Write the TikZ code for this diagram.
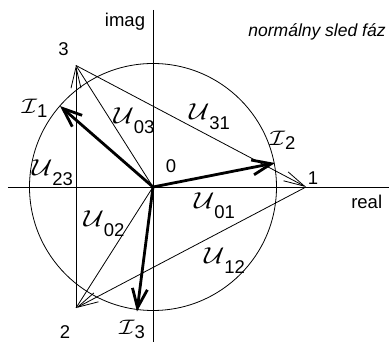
\documentclass[tikz,border=0pt]{standalone}
\usepackage{amsmath}
\usepackage{fontspec}
\setmainfont{Liberation Sans}
\usetikzlibrary{arrows.meta}

\newcommand{\Uph}[1]{\scalebox{2.8}[2.3]{\normalsize$\mathcal{U}$}\raisebox{-10pt}{#1}}
\newcommand{\Iph}[1]{\scalebox{2.5}[2.1]{\normalsize$\mathcal{I}$}\raisebox{-4pt}{#1}}

\begin{document}
\begin{tikzpicture}[x=1pt, y=1pt,
  lbl/.style={font=\fontsize{18.5}{21}\selectfont, inner sep=0pt},
  thinline/.style={line width=0.8pt},
  volt/.style={line width=0.8pt, -{Straight Barb[length=21pt, width=10pt]}},
  curr/.style={line width=2.8pt, -{Straight Barb[length=19pt, width=15pt]}}]
  \useasboundingbox (-153,-155) rectangle (236,187);
  % points of the system
  \coordinate (O) at (0,0);
  \coordinate (P1) at (153,0);
  \coordinate (P2) at (-77,-121);
  \coordinate (P3) at (-77,121.5);
  \coordinate (I1) at (-93,81);
  \coordinate (I2) at (122,24);
  \coordinate (I3) at (-16,-124.5);
  \coordinate (xl) at (-145,0);
  \coordinate (xr) at (236,0);
  \coordinate (yt) at (0,177);
  \coordinate (yb) at (0,-155);
  % axes and circle
  \draw[thinline] (xl) -- (xr);
  \draw[thinline] (yt) -- (yb);
  \draw[thinline] (O) circle[radius=123.5];
  % phase and line voltages
  \foreach \p in {P1,P2,P3}
    \draw[thinline] (O) -- (\p);
  \draw[volt] (P2) -- (P3);
  \draw[volt] (P3) -- (P1);
  \draw[volt] (P1) -- (P2);
  % currents
  \foreach \i in {I1,I2,I3}
    \draw[curr] (O) -- (\i);
  % labels
  \node[lbl] (imag) at (-28,165) {imag};
  \node[lbl] (real) at (213.7,-15) {real};
  \node[lbl, font=\fontsize{17.5}{20}\selectfont\itshape] (title) at (164,155.5) {normálny sled fáz};
  \node[lbl] (n0) at (18,20.5) {0};
  \node[lbl] (n1) at (160,9.3) {1};
  \node[lbl] (n2) at (-88,-145) {2};
  \node[lbl] (n3) at (-89.5,138) {3};
  \node[lbl] (li1) at (-118.5,78.5) {\Iph{1}};
  \node[lbl] (li2) at (129.5,47) {\Iph{2}};
  \node[lbl] (li3) at (-21,-142) {\Iph{3}};
  \node[lbl] (lu03) at (-19,66.5) {\Uph{03}};
  \node[lbl] (lu31) at (56.5,70.5) {\Uph{31}};
  \node[lbl] (lu23) at (-100.5,14) {\Uph{23}};
  \node[lbl] (lu02) at (-49,-36.5) {\Uph{02}};
  \node[lbl] (lu01) at (61.5,-19) {\Uph{01}};
  \node[lbl] (lu12) at (71.5,-74) {\Uph{12}};
\end{tikzpicture}
\end{document}
